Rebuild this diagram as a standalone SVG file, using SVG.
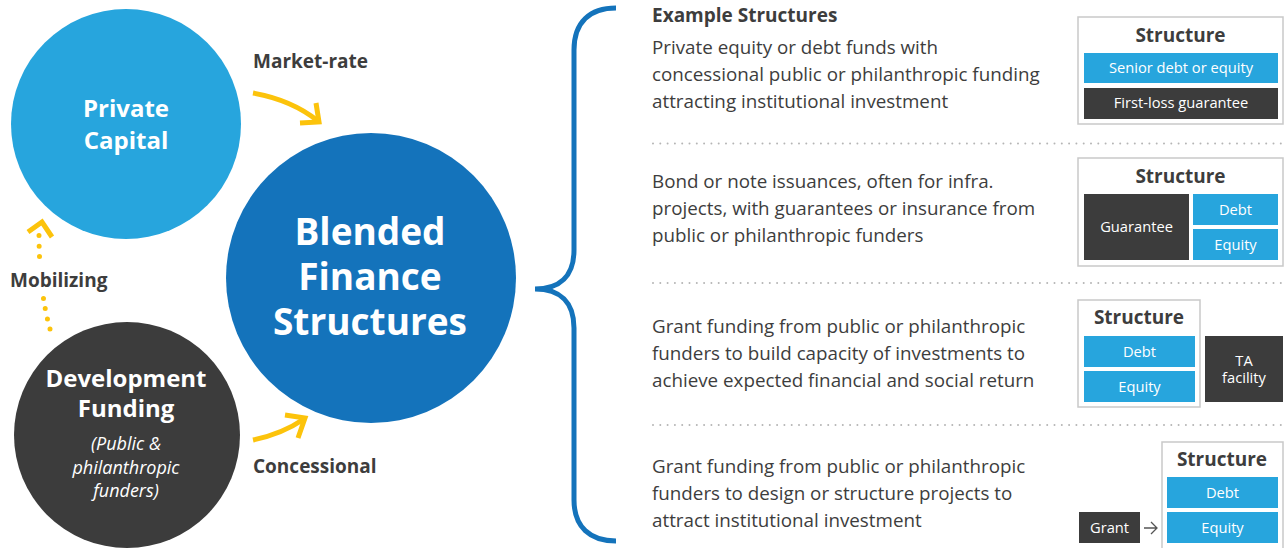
<svg xmlns="http://www.w3.org/2000/svg" width="1285" height="548" viewBox="0 0 1285 548">
<defs>
<style>
.t{font-family:"Open Sans","Noto Sans","Liberation Sans",sans-serif;}
.lbl{font-family:"Open Sans","Noto Sans","Liberation Sans",sans-serif;font-weight:bold;font-size:19px;fill:#3d3d3d;}
.cw{font-family:"Open Sans","Noto Sans","Liberation Sans",sans-serif;font-weight:bold;fill:#ffffff;text-anchor:middle;}
.para{font-family:"Open Sans","Noto Sans","Liberation Sans",sans-serif;font-size:18.8px;fill:#3d3d3d;}
.box{fill:#ffffff;stroke:#c9c9c9;stroke-width:1.5;}
.stitle{font-family:"Open Sans","Noto Sans","Liberation Sans",sans-serif;font-weight:bold;font-size:19px;fill:#3d3d3d;text-anchor:middle;}
.blue{fill:#27a5dd;}
.dark{fill:#3c3c3c;}
.bt{font-family:"Open Sans","Noto Sans","Liberation Sans",sans-serif;font-size:14.7px;fill:#ffffff;text-anchor:middle;}
.yarrow{fill:none;stroke:#fcc30b;stroke-width:5;}
.sep{stroke:#b5b5b5;stroke-width:2;stroke-linecap:round;stroke-dasharray:0 7.3;}
</style>
</defs>
<rect width="1285" height="548" fill="#ffffff"/>

<g id="connectors">
<path class="yarrow" d="M253,93 Q292,100 318,121"/>
<path class="yarrow" d="M300,123 L319,122 L316,103"/>
<path class="yarrow" d="M253,440 Q282,434 304,419"/>
<path class="yarrow" d="M285,415 L305,418 L298,438"/>
<path fill="none" stroke="#fcc30b" stroke-width="5" stroke-linecap="round" stroke-dasharray="0 10.5" d="M50,329 Q39,290 39,233"/>
<path class="yarrow" d="M28,232 L42,222 L52,237"/>
<path id="brace" fill="none" stroke="#1473bb" stroke-width="5" d="M616,8 C590,8 574,22 574,50 L574,250 C574,276 560,289 535,289 C560,289 574,302 574,328 L574,500 C574,527 590,541 616,541"/>
</g>

<g id="labels">
<text class="lbl" x="253" y="68">Market-rate</text>
<text class="lbl" x="253" y="473">Concessional</text>
<rect x="8" y="264" width="106" height="30" fill="#ffffff"/>
<text class="lbl" x="10" y="287">Mobilizing</text>
</g>

<g id="private-capital">
<circle cx="126" cy="124" r="115" fill="#27a5dd"/>
<text class="cw" x="126" y="117" font-size="24">Private</text>
<text class="cw" x="126" y="149" font-size="24">Capital</text>
</g>

<g id="development-funding">
<circle cx="127" cy="435" r="113" fill="#3c3c3c"/>
<text class="cw" x="126" y="387" font-size="24">Development</text>
<text class="cw" x="126" y="417" font-size="24">Funding</text>
<text class="t" x="126" y="450" font-size="18" font-style="italic" fill="#ffffff" text-anchor="middle">(Public &amp;</text>
<text class="t" x="126" y="474" font-size="18" font-style="italic" fill="#ffffff" text-anchor="middle">philanthropic</text>
<text class="t" x="126" y="497" font-size="18" font-style="italic" fill="#ffffff" text-anchor="middle">funders)</text>
</g>

<g id="blended-finance">
<circle cx="371" cy="278" r="145" fill="#1473bb"/>
<text class="cw" x="370" y="245" font-size="37">Blended</text>
<text class="cw" x="370" y="290" font-size="37">Finance</text>
<text class="cw" x="370" y="335" font-size="37">Structures</text>
</g>

<g id="separators">
<line class="sep" x1="653" y1="143.5" x2="1285" y2="143.5"/>
<line class="sep" x1="653" y1="283" x2="1285" y2="283"/>
<line class="sep" x1="653" y1="425" x2="1285" y2="425"/>
</g>

<g id="example-1">
<text class="lbl" x="652" y="22">Example Structures</text>
<text class="para" x="652" y="54">Private equity or debt funds with</text>
<text class="para" x="652" y="81">concessional public or philanthropic funding</text>
<text class="para" x="652" y="108">attracting institutional investment</text>
<rect class="box" x="1078" y="17" width="205" height="107"/>
<text class="stitle" x="1180.5" y="42">Structure</text>
<rect class="blue" x="1084" y="53" width="194" height="30"/>
<text class="bt" x="1181" y="73">Senior debt or equity</text>
<rect class="dark" x="1084" y="88" width="194" height="31"/>
<text class="bt" x="1181" y="108">First-loss guarantee</text>
</g>

<g id="example-2">
<text class="para" x="652" y="188">Bond or note issuances, often for infra.</text>
<text class="para" x="652" y="215">projects, with guarantees or insurance from</text>
<text class="para" x="652" y="242">public or philanthropic funders</text>
<rect class="box" x="1078" y="158" width="205" height="108"/>
<text class="stitle" x="1180.5" y="183">Structure</text>
<rect class="dark" x="1084" y="194" width="105" height="66"/>
<text class="bt" x="1136.5" y="232">Guarantee</text>
<rect class="blue" x="1193" y="194" width="85" height="31"/>
<text class="bt" x="1235.5" y="215">Debt</text>
<rect class="blue" x="1193" y="229" width="85" height="31"/>
<text class="bt" x="1235.5" y="250">Equity</text>
</g>

<g id="example-3">
<text class="para" x="652" y="333">Grant funding from public or philanthropic</text>
<text class="para" x="652" y="360">funders to build capacity of investments to</text>
<text class="para" x="652" y="387">achieve expected financial and social return</text>
<rect class="box" x="1078" y="300" width="122" height="107"/>
<text class="stitle" x="1139" y="324">Structure</text>
<rect class="blue" x="1084" y="336" width="111" height="31"/>
<text class="bt" x="1139.5" y="357">Debt</text>
<rect class="blue" x="1084" y="371" width="111" height="31"/>
<text class="bt" x="1139.5" y="392">Equity</text>
<rect class="dark" x="1205" y="336" width="78" height="66"/>
<text class="bt" x="1244" y="366">TA</text>
<text class="bt" x="1244" y="383">facility</text>
</g>

<g id="example-4">
<text class="para" x="652" y="473">Grant funding from public or philanthropic</text>
<text class="para" x="652" y="500">funders to design or structure projects to</text>
<text class="para" x="652" y="527">attract institutional investment</text>
<rect class="box" x="1162" y="442" width="121" height="110"/>
<text class="stitle" x="1222" y="466">Structure</text>
<rect class="blue" x="1167" y="477" width="111" height="31"/>
<text class="bt" x="1222.5" y="498">Debt</text>
<rect class="blue" x="1167" y="512" width="111" height="31"/>
<text class="bt" x="1222.5" y="533">Equity</text>
<rect class="dark" x="1079" y="512" width="61" height="31"/>
<text class="bt" x="1109.5" y="533">Grant</text>
<path fill="none" stroke="#555555" stroke-width="1.3" d="M1144,528 L1157,528 M1151,522 L1157,528 L1151,534"/>
</g>
</svg>
